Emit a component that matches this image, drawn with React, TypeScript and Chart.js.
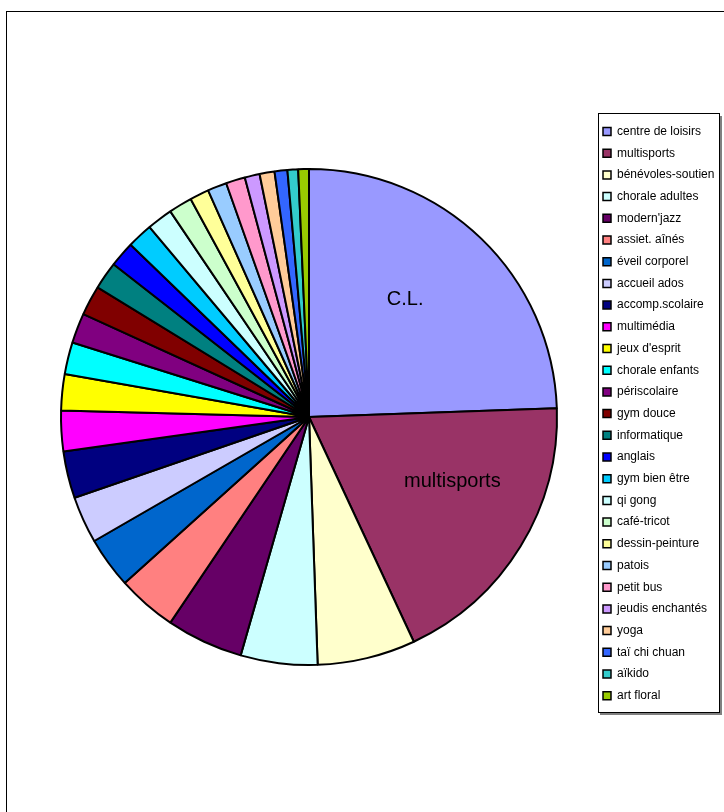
import React, { useEffect, useRef } from "react";
import { Chart, registerables } from "chart.js";

Chart.register(...registerables);

const categories = [
  "centre de loisirs",
  "multisports",
  "bénévoles-soutien",
  "chorale adultes",
  "modern'jazz",
  "assiet. aînés",
  "éveil corporel",
  "accueil ados",
  "accomp.scolaire",
  "multimédia",
  "jeux d'esprit",
  "chorale enfants",
  "périscolaire",
  "gym douce",
  "informatique",
  "anglais",
  "gym bien être",
  "qi gong",
  "café-tricot",
  "dessin-peinture",
  "patois",
  "petit bus",
  "jeudis enchantés",
  "yoga",
  "taï chi chuan",
  "aïkido",
  "art floral",
];

const values = [
  88, 67, 23, 18, 18, 14, 12, 11, 11, 9.5, 8.5, 7.5, 7, 7, 6.5, 6, 6, 6, 5.5,
  4.5, 4.5, 4.5, 3.5, 3.5, 3, 2.5, 2.5,
];

const colors = [
  "#9999FF", "#993366", "#FFFFCC", "#CCFFFF", "#660066", "#FF8080", "#0066CC",
  "#CCCCFF", "#000080", "#FF00FF", "#FFFF00", "#00FFFF", "#800080", "#800000",
  "#008080", "#0000FF", "#00CCFF", "#CCFFFF", "#CCFFCC", "#FFFF99", "#99CCFF",
  "#FF99CC", "#CC99FF", "#FFCC99", "#3366FF", "#33CCCC", "#99CC00",
];

const sliceLabels = ["C.L.", "multisports"];

const FONT = "'Liberation Sans', Arial, sans-serif";
const LEG_PAD = 9.7;

export default function App() {
  const ref = useRef<HTMLCanvasElement | null>(null);

  useEffect(() => {
    const canvas = ref.current;
    if (!canvas) return;

    const labelFrac = [0.44, 0.38];
    const labelRad = [0.62, 0.63];

    const framePlugin = {
      id: "framePlugin",
      beforeDraw(chart: any) {
        const ctx = chart.ctx;
        ctx.save();
        ctx.fillStyle = "#ffffff";
        ctx.fillRect(0, 0, chart.width, chart.height);
        ctx.strokeStyle = "#000000";
        ctx.lineWidth = 1;
        ctx.strokeRect(6.5, 11.5, 900, 900);
        // legend frame with shadow
        ctx.fillStyle = "#808080";
        ctx.fillRect(600, 713, 122, 2);
        ctx.fillRect(720, 116, 2, 599);
        ctx.strokeStyle = "#000000";
        ctx.lineWidth = 1;
        ctx.strokeRect(598.5, 113.5, 121, 599);
        ctx.restore();
      },
      beforeUpdate(chart: any) {
        const lg = chart.legend;
        if (lg && !lg.__patched) {
          const orig = lg.fit;
          lg.fit = function () {
            this.maxHeight = 3000;
            orig.call(this);
            this.width = 122;
          };
          lg.__patched = true;
        }
      },
      afterLayout(chart: any) {
        const lg = chart.legend;
        if (!lg) return;
        lg.left = 603 - LEG_PAD;
        lg.right = 720;
        lg.top = 131.5 - 6 - LEG_PAD;
        lg.bottom = 790;
        lg.width = lg.right - lg.left;
        lg.height = lg.bottom - lg.top;
      },
      afterDatasetsDraw(chart: any) {
        const meta = chart.getDatasetMeta(0);
        const ctx = chart.ctx;
        ctx.save();
        ctx.fillStyle = "#000000";
        ctx.font = `20px ${FONT}`;
        ctx.textAlign = "center";
        ctx.textBaseline = "middle";
        meta.data.forEach((arc: any, i: number) => {
          const text = sliceLabels[i];
          if (!text) return;
          const p = arc.getProps(["x", "y", "startAngle", "endAngle", "outerRadius"], true);
          const a = p.startAngle + labelFrac[i] * (p.endAngle - p.startAngle);
          const r = labelRad[i] * p.outerRadius;
          ctx.fillText(text, p.x + Math.cos(a) * r, p.y + Math.sin(a) * r + 2);
        });
        ctx.restore();
      },
    };

    const chart = new Chart(canvas, {
      type: "pie",
      data: {
        labels: categories,
        datasets: [
          {
            data: values,
            backgroundColor: colors,
            borderColor: "#000000",
            borderWidth: 2,
            hoverOffset: 0,
            offset: 0,
          },
        ],
      },
      options: {
        responsive: false,
        animation: false,
        events: [],
        layout: {
          padding: { left: 20, right: 4, top: 168, bottom: 146 },
        },
        plugins: {
          legend: {
            display: true,
            position: "right",
            align: "start",
            labels: {
              color: "#000000",
              boxWidth: 8,
              boxHeight: 8,
              padding: LEG_PAD,
              font: { family: FONT, size: 12 },
              generateLabels(chart: any) {
                return chart.data.labels.map((label: string, i: number) => ({
                  text: label,
                  fillStyle: colors[i],
                  strokeStyle: "#000000",
                  lineWidth: 1.5,
                  fontColor: "#000000",
                  hidden: false,
                  index: i,
                }));
              },
            },
          },
          tooltip: { enabled: false },
          title: { display: false },
        },
      },
      plugins: [framePlugin],
    } as any);

    return () => {
      chart.destroy();
    };
  }, []);

  return (
    <div style={{ position: "absolute", left: 0, top: 0, width: 724, height: 812, background: "#fff" }}>
      <canvas ref={ref} width={724} height={812} style={{ width: 724, height: 812, display: "block" }} />
    </div>
  );
}
